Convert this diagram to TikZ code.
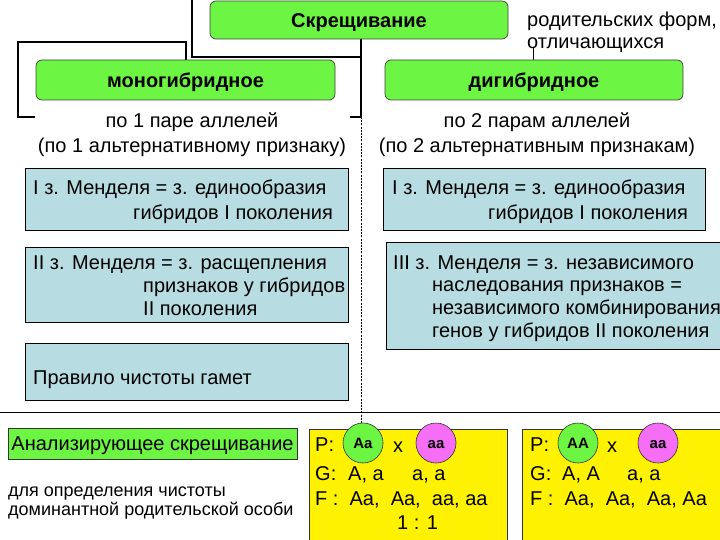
\documentclass[tikz,border=0pt]{standalone}
\usepackage{fontspec}
\setmainfont{Liberation Sans}
\definecolor{grn}{RGB}{108,245,66}
\definecolor{blu}{RGB}{183,221,227}
\definecolor{pnk}{RGB}{245,110,245}
\begin{document}
\begin{tikzpicture}[x=1pt,y=-1pt,
  every node/.style={font=\fontsize{20}{24}\selectfont},
  gbox/.style={draw=black!75, fill=grn, rounded corners=6pt, line width=0.7pt, inner sep=0pt,
               text height=14.3pt, text depth=0pt,
               font=\fontsize{20}{24}\selectfont\bfseries},
  bbox/.style={draw=black, fill=blu, line width=0.9pt},
  ybox/.style={draw=black!80, fill=yellow, line width=0.6pt},
  txt/.style={inner sep=0pt, anchor=base west},
  conn/.style={line width=1.3pt},
  dline/.style={line width=0.8pt, dash pattern=on 2pt off 1.2pt},
  gcirc/.style={circle, draw=black!80, line width=0.6pt, fill=grn, minimum size=40pt, inner sep=0pt,
                text height=10.7pt, text depth=0pt,
                font=\fontsize{15}{15}\selectfont\bfseries},
  pcirc/.style={gcirc, fill=pnk},
]
\useasboundingbox (0,0) rectangle (720,540);

% connector lines (drawn first)
\coordinate (t0) at (192,0);
\coordinate (t1) at (192,57);
\coordinate (t2) at (361,57);
\coordinate (t3) at (361,117);
\coordinate (t4) at (350,117);
\coordinate (l0) at (186,60);
\coordinate (l1) at (186,42);
\coordinate (l2) at (18,42);
\coordinate (l3) at (18,117);
\coordinate (l4) at (35,117);
\coordinate (v0) at (361,38);
\draw[conn] (t0) -- (t1) -- (t2) -- (t3) -- (t4);
\draw[conn] (v0) -- (t3);
\draw[conn] (l0) -- (l1) -- (l2) -- (l3) -- (l4);
\coordinate (tk0) at (533,48);
\coordinate (tk1) at (533,60);
\draw[line width=1pt] (tk0) -- (tk1);
\coordinate (hl0) at (0,412);
\coordinate (hl1) at (720,412);
\draw[line width=1pt] (hl0) -- (hl1);
\coordinate (dl1) at (361,423);
\draw[dline] (t3) -- (dl1);

% top boxes
\node[gbox, minimum width=298pt, minimum height=38pt] (cross) at (359,20) {Скрещивание};
\node[gbox, minimum width=299pt, minimum height=40pt] (mono) at (185.5,80) {моногибридное};
\node[gbox, minimum width=298pt, minimum height=40pt] (di) at (534,80) {дигибридное};

\node[txt] (rf1) at (527,27) {родительских форм,};
\node[txt] (rf2) at (527,49) {отличающихся};

\node[align=center, inner sep=0pt, font=\fontsize{20}{25}\selectfont] (p1) at (192,134.5)
  {по 1 паре аллелей\\(по 1 альтернативному признаку)};
\node[align=center, inner sep=0pt, font=\fontsize{20}{25}\selectfont] (p2) at (537,134.5)
  {по 2 парам аллелей\\(по 2 альтернативным признакам)};

% blue boxes left
\draw[bbox] (25,168) rectangle (348,230);
\node[txt] (m1a) at (33,195) {I з. Менделя = з. единообразия};
\node[txt] (m1b) at (133,219) {гибридов I поколения};
\draw[bbox] (25,247) rectangle (348,322);
\node[txt] (m2a) at (33,269) {II з. Менделя = з. расщепления};
\node[txt] (m2b) at (143,292) {признаков у гибридов};
\node[txt] (m2c) at (143,315) {II поколения};
\draw[bbox] (25,343) rectangle (348,400);
\node[txt] (m3) at (33,384) {Правило чистоты гамет};

% blue boxes right
\draw[bbox] (383,168) rectangle (705,230);
\node[txt] (r1a) at (392,195) {I з. Менделя = з. единообразия};
\node[txt] (r1b) at (488,219) {гибридов I поколения};
\draw[bbox] (386,242) rectangle (725,349);
\node[txt] (r3a) at (393,269) {III з. Менделя = з. независимого};
\node[txt] (r3b) at (432,291) {наследования признаков =};
\node[txt] (r3c) at (432,314) {независимого комбинирования};
\node[txt] (r3d) at (432,337) {генов у гибридов II поколения};

% bottom left
\node[draw=black!80, line width=0.6pt, fill=grn, minimum width=289pt, minimum height=31pt, inner sep=0pt,
      text height=14.3pt, text depth=0pt]
  (an) at (152.5,443.5) {Анализирующее скрещивание};
\node[txt, font=\fontsize{18}{21}\selectfont] (d1) at (8,496) {для определения чистоты};
\node[txt, font=\fontsize{18}{21}\selectfont] (d2) at (8,515) {доминантной родительской особи};

% yellow boxes
\draw[ybox] (309,429) rectangle (507,545);
\draw[ybox] (522,429) rectangle (725,545);

\node[txt] (P1) at (315,451) {P:};
\node[gcirc] (c1) at (363,443) {Aa};
\node[txt] (x1) at (393,452) {x};
\node[pcirc] (c2) at (436,443) {aa};
\node[txt] (G1) at (315,480) {G:};
\node[txt] (G1a) at (348,480) {A, a};
\node[txt] (G1b) at (412,480) {a, a};
\node[txt] (F1) at (315,505) {F :\ \ Aa,\ \ Aa,\ \ aa, aa};
\node[txt] (R1) at (397,529) {1 : 1};

\node[txt] (P2) at (530,451) {P:};
\node[gcirc] (c3) at (578,443) {AA};
\node[txt] (x2) at (607,452) {x};
\node[pcirc] (c4) at (658,443) {aa};
\node[txt] (G2) at (530,480) {G:};
\node[txt] (G2a) at (562,480) {A, A};
\node[txt] (G2b) at (627,480) {a, a};
\node[txt] (F2) at (530,505) {F :\ \ Aa,\ \ Aa,\ \ Aa, Aa};
\end{tikzpicture}
\end{document}
